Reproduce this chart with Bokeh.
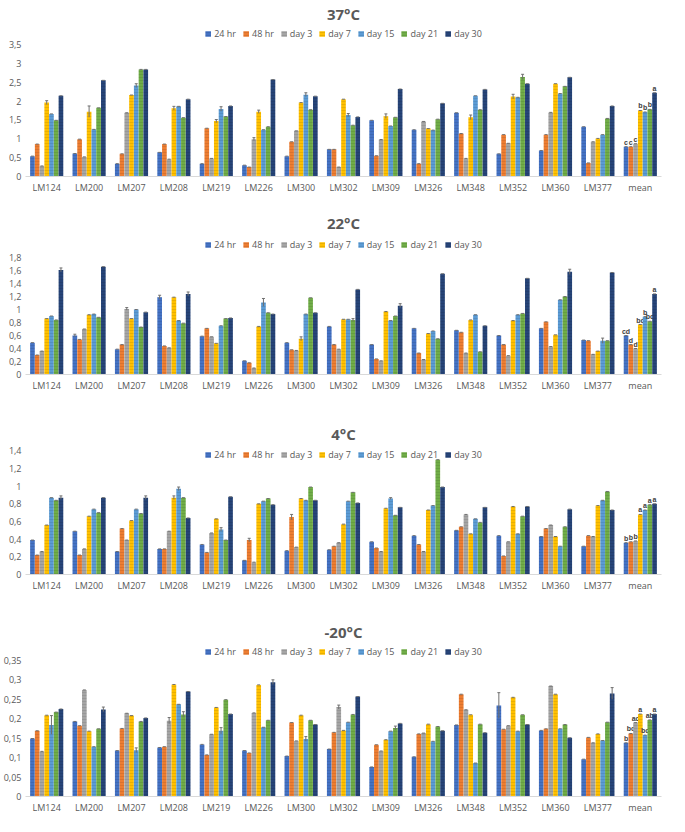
from bokeh.plotting import figure
from bokeh.models import (ColumnDataSource, FactorRange, Range1d, FixedTicker,
                          CustomJSTickFormatter, Legend, LegendItem)
from bokeh.transform import dodge
from bokeh.layouts import column
from bokeh.embed import file_html
from bokeh.resources import INLINE

categories = ["LM124", "LM200", "LM207", "LM208", "LM219", "LM226", "LM300", "LM302",
              "LM309", "LM326", "LM348", "LM352", "LM360", "LM377", "mean"]
series = ["24 hr", "48 hr", "day 3", "day 7", "day 15", "day 21", "day 30"]
colors = ["#4472C4", "#ED7D31", "#A5A5A5", "#FFC000", "#5B9BD5", "#70AD47", "#264478"]

# ---------------- 37 °C ----------------
v37_24hr  = [0.54, 0.61, 0.34, 0.64, 0.34, 0.30, 0.54, 0.72, 1.49, 1.24, 1.69, 0.60, 0.69, 1.32, 0.79]
v37_48hr  = [0.86, 0.99, 0.60, 0.86, 1.28, 0.25, 0.92, 0.72, 0.55, 0.34, 1.14, 1.11, 1.11, 0.36, 0.79]
v37_day3  = [0.28, 0.52, 1.69, 0.46, 0.48, 0.99, 1.21, 0.25, 0.98, 1.46, 0.48, 0.88, 1.70, 0.92, 0.87]
v37_day7  = [1.96, 1.72, 2.16, 1.81, 1.47, 1.72, 1.96, 2.05, 1.60, 1.27, 1.57, 2.12, 2.46, 1.01, 1.75]
v37_day15 = [1.66, 1.25, 2.41, 1.86, 1.79, 1.24, 2.17, 1.63, 1.34, 1.23, 2.14, 2.10, 2.20, 1.11, 1.71]
v37_day21 = [1.49, 1.82, 2.84, 1.56, 1.59, 1.32, 1.77, 1.36, 1.57, 1.52, 1.77, 2.64, 2.39, 1.54, 1.78]
v37_day30 = [2.14, 2.55, 2.84, 2.05, 1.87, 2.57, 2.13, 1.58, 2.32, 1.94, 2.31, 2.46, 2.63, 1.87, 2.22]
err37 = [("LM124", "day 7", 0.05), ("LM200", "day 7", 0.15), ("LM207", "day 15", 0.05),
         ("LM208", "day 7", 0.05), ("LM219", "day 15", 0.06), ("LM219", "day 7", 0.04),
         ("LM226", "day 7", 0.04), ("LM226", "day 3", 0.04), ("LM300", "day 15", 0.05),
         ("LM309", "day 7", 0.06), ("LM348", "day 7", 0.06), ("LM352", "day 7", 0.06),
         ("LM352", "day 21", 0.07), ("LM302", "day 15", 0.04)]
letters37 = ["c", "c", "c", "b", "b", "b", "a"]
ticks37 = [0, 0.5, 1, 1.5, 2, 2.5, 3, 3.5]

# ---------------- 22 °C ----------------
v22_24hr  = [0.49, 0.60, 0.39, 1.19, 0.59, 0.21, 0.49, 0.74, 0.46, 0.71, 0.68, 0.60, 0.71, 0.53, 0.60]
v22_48hr  = [0.30, 0.54, 0.46, 0.44, 0.71, 0.18, 0.38, 0.46, 0.24, 0.33, 0.65, 0.46, 0.81, 0.52, 0.46]
v22_day3  = [0.36, 0.70, 1.01, 0.41, 0.58, 0.10, 0.37, 0.39, 0.21, 0.23, 0.33, 0.29, 0.43, 0.31, 0.40]
v22_day7  = [0.86, 0.92, 0.86, 1.19, 0.48, 0.74, 0.55, 0.85, 0.97, 0.63, 0.84, 0.83, 0.61, 0.36, 0.77]
v22_day15 = [0.90, 0.93, 1.00, 0.83, 0.75, 1.11, 0.93, 0.85, 0.83, 0.67, 0.92, 0.92, 1.15, 0.52, 0.89]
v22_day21 = [0.84, 0.88, 0.73, 0.79, 0.86, 0.95, 1.18, 0.84, 0.90, 0.55, 0.35, 0.94, 1.20, 0.52, 0.82]
v22_day30 = [1.61, 1.66, 0.96, 1.24, 0.87, 0.93, 0.95, 1.31, 1.06, 1.55, 0.75, 1.48, 1.58, 1.57, 1.24]
err22 = [("LM124", "day 30", 0.03), ("LM208", "24 hr", 0.03), ("LM208", "day 30", 0.03),
         ("LM226", "day 15", 0.06), ("LM300", "day 7", 0.03), ("LM309", "day 30", 0.03),
         ("LM360", "day 30", 0.04), ("LM377", "day 15", 0.04), ("LM207", "day 3", 0.02),
         ("LM200", "24 hr", 0.02), ("LM302", "day 21", 0.02)]
letters22 = ["cd", "d", "d", "bc", "b", "bc", "a"]
ticks22 = [0, 0.2, 0.4, 0.6, 0.8, 1, 1.2, 1.4, 1.6, 1.8]

# ---------------- 4 °C ----------------
v4_24hr  = [0.39, 0.49, 0.26, 0.29, 0.34, 0.16, 0.27, 0.28, 0.37, 0.44, 0.50, 0.44, 0.43, 0.32, 0.36]
v4_48hr  = [0.22, 0.22, 0.52, 0.29, 0.25, 0.39, 0.65, 0.32, 0.30, 0.34, 0.54, 0.21, 0.52, 0.44, 0.37]
v4_day3  = [0.26, 0.29, 0.39, 0.49, 0.47, 0.14, 0.31, 0.36, 0.26, 0.26, 0.68, 0.37, 0.56, 0.43, 0.38]
v4_day7  = [0.56, 0.66, 0.61, 0.87, 0.63, 0.80, 0.86, 0.57, 0.75, 0.73, 0.46, 0.77, 0.43, 0.78, 0.68]
v4_day15 = [0.87, 0.74, 0.74, 0.97, 0.51, 0.83, 0.84, 0.83, 0.86, 0.78, 0.63, 0.46, 0.32, 0.84, 0.73]
v4_day21 = [0.84, 0.70, 0.69, 0.87, 0.39, 0.86, 0.99, 0.93, 0.67, 1.30, 0.59, 0.66, 0.54, 0.94, 0.79]
v4_day30 = [0.87, 0.87, 0.87, 0.64, 0.88, 0.79, 0.84, 0.81, 0.76, 0.99, 0.76, 0.77, 0.74, 0.73, 0.80]
err4 = [("LM124", "day 30", 0.02), ("LM208", "day 7", 0.02), ("LM208", "day 15", 0.02),
        ("LM219", "day 15", 0.02), ("LM226", "48 hr", 0.02), ("LM300", "48 hr", 0.03),
        ("LM207", "day 30", 0.02), ("LM309", "day 15", 0.01)]
letters4 = ["b", "b", "b", "a", "a", "a", "a"]
ticks4 = [0, 0.2, 0.4, 0.6, 0.8, 1, 1.2, 1.4]

# ---------------- -20 °C ----------------
vm20_24hr  = [0.149, 0.193, 0.118, 0.126, 0.134, 0.118, 0.104, 0.122, 0.076, 0.102, 0.184, 0.234, 0.170, 0.096, 0.138]
vm20_48hr  = [0.169, 0.182, 0.175, 0.128, 0.107, 0.112, 0.190, 0.165, 0.133, 0.161, 0.263, 0.173, 0.174, 0.152, 0.162]
vm20_day3  = [0.116, 0.274, 0.214, 0.195, 0.160, 0.215, 0.143, 0.230, 0.117, 0.163, 0.223, 0.182, 0.284, 0.138, 0.190]
vm20_day7  = [0.209, 0.168, 0.208, 0.288, 0.229, 0.287, 0.209, 0.170, 0.146, 0.186, 0.210, 0.255, 0.263, 0.161, 0.212]
vm20_day15 = [0.184, 0.128, 0.119, 0.237, 0.169, 0.178, 0.148, 0.191, 0.168, 0.142, 0.086, 0.168, 0.174, 0.144, 0.158]
vm20_day21 = [0.217, 0.174, 0.193, 0.211, 0.249, 0.196, 0.196, 0.211, 0.176, 0.180, 0.186, 0.210, 0.185, 0.191, 0.197]
vm20_day30 = [0.225, 0.224, 0.202, 0.270, 0.212, 0.294, 0.185, 0.257, 0.188, 0.169, 0.164, 0.185, 0.151, 0.265, 0.212]
errm20 = [("LM124", "day 15", 0.024), ("LM352", "24 hr", 0.033), ("LM377", "day 30", 0.015),
          ("LM208", "day 3", 0.008), ("LM208", "day 21", 0.007), ("LM219", "day 15", 0.008),
          ("LM207", "day 15", 0.006), ("LM200", "day 30", 0.006), ("LM226", "day 30", 0.006),
          ("LM300", "day 15", 0.006), ("LM309", "day 21", 0.005), ("LM302", "day 3", 0.005)]
lettersm20 = ["b", "bc", "ac", "a", "bc", "ab", "a"]
ticksm20 = [0, 0.05, 0.1, 0.15, 0.2, 0.25, 0.3, 0.35]

FONT = "Open Sans"
GREY = "#595959"
BW = 0.112
OFFS = [(i - 3) * BW for i in range(7)]


def make_panel(title, vals, errs, letters, ticks, top, frame, bottom, headroom, standoff):
    ymax = ticks[-1]
    p = figure(x_range=FactorRange(*categories, range_padding=0.0),
               y_range=Range1d(0, ymax * headroom), width=669, height=top + frame + bottom,
               output_backend="svg", toolbar_location=None,
               min_border_left=22, min_border_right=8, min_border_top=top, min_border_bottom=bottom)
    p.title.text = title
    p.title.align = "center"
    p.title.text_font = FONT
    p.title.text_font_size = "15px"
    p.title.text_color = GREY
    p.title.text_font_style = "bold"
    p.title.standoff = standoff
    p.outline_line_color = None
    p.xgrid.grid_line_color = None
    p.ygrid.grid_line_color = None

    errmap = {(c, s): e for c, s, e in errs}
    items = []
    for k, s in enumerate(series):
        tops = vals[k]
        ev = [errmap.get((c, s), 0.0) for c in categories]
        src = ColumnDataSource(dict(cat=categories, top=tops,
                                    lo=[t - e for t, e in zip(tops, ev)],
                                    hi=[t + e for t, e in zip(tops, ev)]))
        r = p.vbar(x=dodge("cat", OFFS[k], range=p.x_range), top="top", width=BW * 0.98,
                   source=src, fill_color=colors[k], line_color=None,
                   hatch_pattern="horizontal_line", hatch_color="#000000",
                   hatch_alpha=0.15, hatch_scale=3, hatch_weight=0.6)
        p.segment(x0=dodge("cat", OFFS[k], range=p.x_range), x1=dodge("cat", OFFS[k], range=p.x_range),
                  y0="lo", y1="hi", source=src, line_color="#6F6F6F", line_width=1)
        p.segment(x0=dodge("cat", OFFS[k] - 0.035, range=p.x_range),
                  x1=dodge("cat", OFFS[k] + 0.035, range=p.x_range),
                  y0="hi", y1="hi", source=src, line_color="#6F6F6F", line_width=1)
        items.append(LegendItem(label=s, renderers=[r]))
        lsrc = ColumnDataSource(dict(cat=["mean"],
                                     y=[tops[-1] + errmap.get(("mean", s), 0.0) + ymax * 0.008],
                                     t=[letters[k]]))
        p.text(x=dodge("cat", OFFS[k], range=p.x_range), y="y", text="t", source=lsrc,
               text_font_size="7px", text_font_style="bold", text_color="#404040",
               text_align="center", text_baseline="bottom")

    leg = Legend(items=items, orientation="horizontal", location="top_center",
                 label_text_font=FONT, label_text_font_size="9px", label_text_color=GREY,
                 glyph_width=7, glyph_height=7, spacing=6, padding=0, margin=2,
                 label_standoff=3, border_line_color=None, background_fill_alpha=0)
    p.add_layout(leg)

    p.yaxis.ticker = FixedTicker(ticks=ticks)
    p.yaxis.formatter = CustomJSTickFormatter(code="return tick.toString().replace('.', ',');")
    for ax in (p.xaxis, p.yaxis):
        ax.major_tick_line_color = None
        ax.minor_tick_line_color = None
        ax.major_tick_out = 0
        ax.major_tick_in = 0
        ax.major_label_text_font = FONT
        ax.major_label_text_font_size = "9px"
        ax.major_label_text_color = GREY
    p.yaxis.axis_line_color = None
    p.xaxis.axis_line_color = "#D9D9D9"
    p.xaxis.major_label_standoff = 4
    p.yaxis.major_label_standoff = 4
    return p


p1 = make_panel("37°C", [v37_24hr, v37_48hr, v37_day3, v37_day7, v37_day15, v37_day21, v37_day30],
                err37, letters37, ticks37, 25, 151, 29, 1.144, 3)
p2 = make_panel("22°C", [v22_24hr, v22_48hr, v22_day3, v22_day7, v22_day15, v22_day21, v22_day30],
                err22, letters22, ticks22, 31, 138, 44, 1.18, 8)
p3 = make_panel("4°C", [v4_24hr, v4_48hr, v4_day3, v4_day7, v4_day15, v4_day21, v4_day30],
                err4, letters4, ticks4, 28, 128, 44, 1.035, 6)
p4 = make_panel("-20°C", [vm20_24hr, vm20_48hr, vm20_day3, vm20_day7, vm20_day15, vm20_day21, vm20_day30],
                errm20, lettersm20, ticksm20, 24, 154, 20, 1.124, 3)

layout = column(p1, p2, p3, p4, spacing=0)
open("out.html", "w").write(file_html(layout, INLINE))
